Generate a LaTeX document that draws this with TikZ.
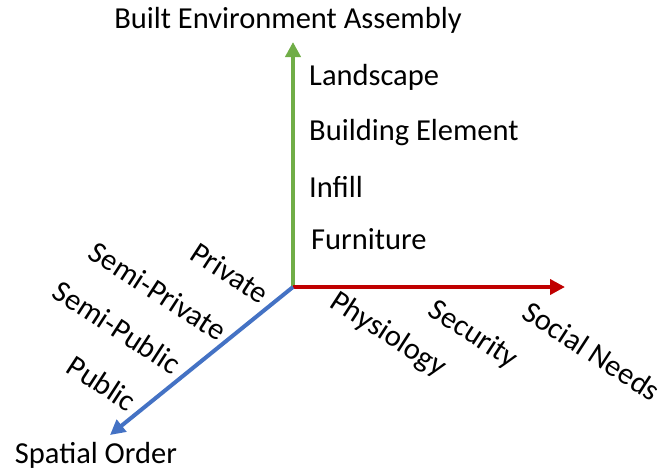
\documentclass[tikz,border=0pt]{standalone}
\usepackage{fontspec}
\setmainfont{Carlito}
\usetikzlibrary{arrows.meta}
\definecolor{axgreen}{HTML}{70AD47}
\definecolor{axred}{HTML}{C00000}
\definecolor{axblue}{HTML}{4472C4}
\begin{document}
\begin{tikzpicture}[x=1pt,y=-1pt,
  axis/.style={line width=4pt,-{Triangle[length=15pt,width=15pt]}},
  lbl/.style={font=\fontsize{30.5}{36}\selectfont,inner sep=0pt},
  rlbl/.style={lbl,rotate=-33}]
\useasboundingbox (0,0) rectangle (664,475);
\coordinate (O) at (293,287);
\coordinate (G) at (293,42);
\coordinate (R) at (565,287);
\coordinate (B) at (110,435);
\draw[axis,axgreen] (O) -- (G);
\draw[axis,axred] (O) -- (R);
\draw[axis,axblue] (O) -- (B);
\node[lbl] (bea) at (288,20) {Built Environment Assembly};
\node[lbl,anchor=west] (land) at (309,77) {Landscape};
\node[lbl,anchor=west] (bel) at (309,133) {Building Element};
\node[lbl,anchor=west] (inf) at (309,187) {Infill};
\node[lbl,anchor=west] (fur) at (311,239) {Furniture};
\node[rlbl] (priv) at (230,273) {Private};
\node[rlbl] (spriv) at (158,291) {Semi-Private};
\node[rlbl] (spub) at (117,327) {Semi-Public};
\node[rlbl] (pub) at (102,383) {Public};
\node[lbl] (so) at (96,455) {Spatial Order};
\node[rlbl] (phys) at (388,335) {Physiology};
\node[rlbl] (sec) at (473,335) {Security};
\node[rlbl] (soc) at (592,351) {Social Needs};
\end{tikzpicture}
\end{document}
